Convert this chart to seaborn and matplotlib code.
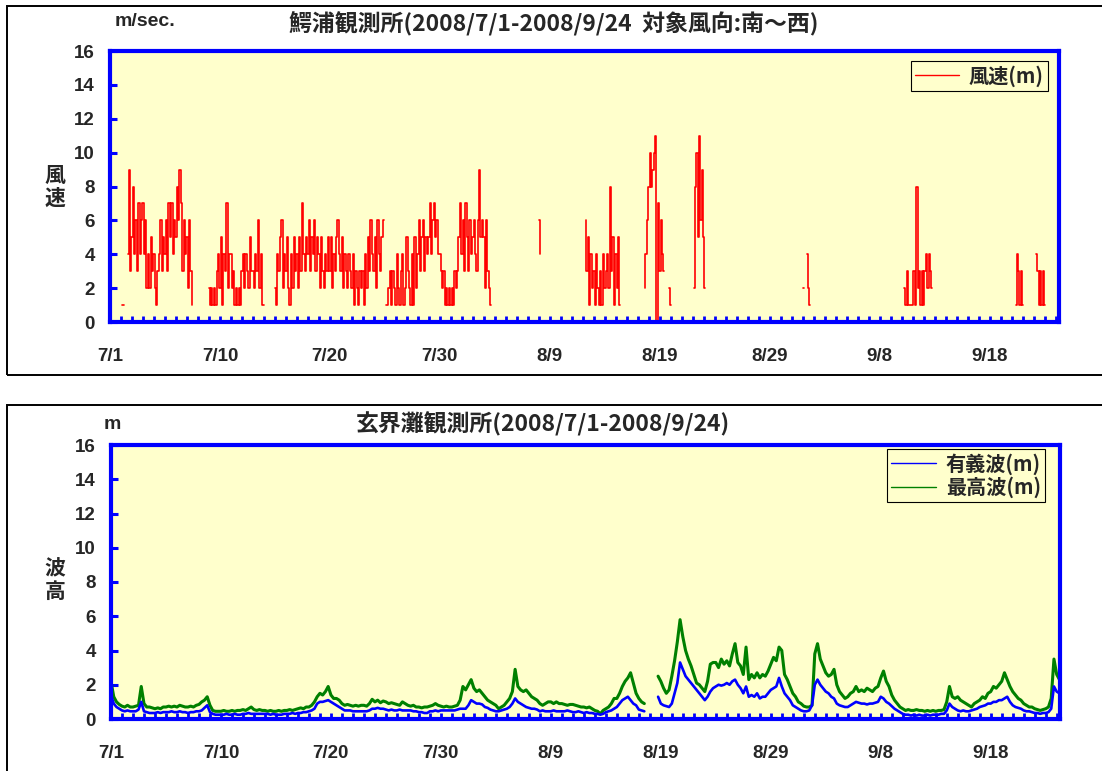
import numpy as np
import pandas as pd
import matplotlib
matplotlib.use("Agg")
import matplotlib.pyplot as plt
import seaborn as sns
from matplotlib.lines import Line2D
from matplotlib.patches import Rectangle
from matplotlib.font_manager import FontProperties

N = np.nan
WIND_PER_DAY = 8   # 3-hourly readings
WAVE_PER_DAY = 4   # 6-hourly readings

# x-axis date labels and their day offsets
date_labels = ["7/1", "7/10", "7/20", "7/30", "8/9", "8/19", "8/29", "9/8", "9/18"]
date_label_days = [0, 10, 20, 30, 40, 50, 60, 70, 80]

# Wind speed (m/s), one row per day; NaN when wind is not from south to west
wind_speed = [
    N, N, N, N, N, N, N, N,
    N, 1, 1, N, N, 4, 9, 3,
    5, 8, 4, 6, 3, 7, 4, 6,
    7, 4, 6, 2, 4, 2, 5, 3,
    4, 2, 1, 3, 4, 6, 3, 5,
    4, 6, 3, 7, 5, 7, 4, 6,
    5, 8, 6, 9, 7, 3, 6, 4,
    5, 2, 6, 3, 1, N, N, N,
    N, N, N, N, N, N, N, N,
    2, 1, 2, 1, 2, 1, 3, 4,
    2, 5, 1, 4, 3, 7, 2, 4,
    4, 2, 3, 1, 2, 1, 2, 1,
    3, 4, 2, 4, 3, 2, 5, 3,
    3, 2, 4, 3, 6, 2, 4, 1,
    1, N, N, N, N, N, N, N,
    2, 1, 4, 3, 5, 6, 2, 4,
    3, 5, 2, 1, 4, 2, 5, 3,
    4, 2, 5, 3, 7, 4, 3, 5,
    4, 6, 3, 5, 4, 6, 3, 5,
    4, 2, 5, 3, 2, 4, 3, 5,
    3, 5, 2, 4, 3, 5, 6, 4,
    3, 5, 2, 4, 3, 2, 4, 3,
    2, 4, 1, 3, 2, 1, 3, 2,
    3, 1, 4, 2, 5, 3, 6, 4,
    3, 5, 2, 6, 4, 3, 5, 6,
    N, 1, 1, 2, 3, 1, 3, 2,
    1, 4, 2, 1, 3, 4, 1, 2,
    5, 3, 2, 1, 4, 1, 5, 2,
    4, 6, 3, 5, 6, 3, 5, 4,
    5, 7, 4, 6, 7, 5, 6, 4,
    4, 3, 2, 3, 1, 2, 1, 2,
    1, 2, 1, 3, 2, 3, 5, 7,
    4, 6, 3, 7, 5, 3, 6, 4,
    5, 6, 4, 3, 6, 9, 5, 6,
    5, 2, 6, 3, 2, 1, N, N,
    N, N, N, N, N, N, N, N,
    N, N, N, N, N, N, N, N,
    N, N, N, N, N, N, N, N,
    N, N, N, N, N, N, N, N,
    6, 4, N, N, N, N, N, N,
    N, N, N, N, N, N, N, N,
    N, N, N, N, N, N, N, N,
    N, N, N, N, N, N, N, N,
    N, N, 6, 3, 5, 1, 4, 2,
    3, 1, 4, 2, 1, 3, 1, 4,
    2, 3, 4, 2, 8, 3, 5, 1,
    4, 2, 5, 1, N, N, N, N,
    N, N, N, N, N, N, N, N,
    N, N, N, N, N, 2, 4, 6,
    8, 10, 8, 9, 10, 11, 0, 7,
    3, 6, 4, 3, N, N, N, 2,
    1, N, N, N, N, N, N, N,
    N, N, N, N, N, N, N, N,
    N, 2, 8, 10, 5, 11, 6, 9,
    5, 2, N, N, N, N, N, N,
    N, N, N, N, N, N, N, N,
    N, N, N, N, N, N, N, N,
    N, N, N, N, N, N, N, N,
    N, N, N, N, N, N, N, N,
    N, N, N, N, N, N, N, N,
    N, N, N, N, N, N, N, N,
    N, N, N, N, N, N, N, N,
    N, N, N, N, N, N, N, N,
    2, 2, N, 4, 2, 1, N, N,
    N, N, N, N, N, N, N, N,
    N, N, N, N, N, N, N, N,
    N, N, N, N, N, N, N, N,
    N, N, N, N, N, N, N, N,
    N, N, N, N, N, N, N, N,
    N, N, N, N, N, N, N, N,
    N, N, N, N, N, N, N, N,
    N, N, N, N, N, N, N, N,
    N, N, 2, 1, 3, 1, 1, 1,
    1, 3, 1, 8, 2, 3, 1, 3,
    1, 3, 4, 2, 4, 3, 2, N,
    N, N, N, N, N, N, N, N,
    N, N, N, N, N, N, N, N,
    N, N, N, N, N, N, N, N,
    N, N, N, N, N, N, N, N,
    N, N, N, N, N, N, N, N,
    N, N, N, N, N, N, N, N,
    N, N, N, N, N, N, N, N,
    N, N, N, 1, 4, 3, 1, 3,
    1, N, N, N, N, N, N, N,
    N, N, 4, 3, 1, 3, 1, 3,
    1, N, N, N, N, N, N, N,
]

# Significant wave height (m)
sig_wave = [
    1.4, 0.9, 0.7, 0.6,      0.5, 0.45, 0.5, 0.45,    0.45, 0.45, 0.55, 1.0,   0.45, 0.4, 0.35, 0.35,
    0.35, 0.4, 0.35, 0.4,    0.4, 0.4, 0.45, 0.4,     0.4, 0.45, 0.4, 0.4,     0.35, 0.4, 0.4, 0.45,
    0.45, 0.5, 0.65, 0.8,    0.4, 0.3, 0.25, 0.25,    0.25, 0.25, 0.3, 0.25,   0.25, 0.3, 0.25, 0.25,
    0.3, 0.3, 0.35, 0.3,     0.3, 0.3, 0.3, 0.3,      0.3, 0.3, 0.25, 0.3,     0.25, 0.25, 0.25, 0.3,
    0.3, 0.3, 0.35, 0.3,     0.35, 0.35, 0.4, 0.4,    0.45, 0.5, 0.6, 0.9,     1.0, 1.0, 1.05, 1.1,
    1.0, 0.9, 0.8, 0.7,      0.6, 0.5, 0.5, 0.5,      0.45, 0.45, 0.45, 0.45,  0.45, 0.45, 0.5, 0.6,
    0.6, 0.65, 0.6, 0.6,     0.55, 0.5, 0.55, 0.5,    0.5, 0.55, 0.5, 0.5,     0.5, 0.5, 0.45, 0.45,
    0.4, 0.4, 0.35, 0.35,    0.45, 0.45, 0.5, 0.45,   0.5, 0.5, 0.5, 0.5,      0.5, 0.5, 0.55, 0.6,
    0.6, 0.6, 0.8, 1.1,      1.0, 0.9, 0.9, 0.85,     0.7, 0.65, 0.55, 0.5,    0.45, 0.45, 0.5, 0.55,
    0.6, 0.7, 0.9, 1.2,      1.0, 0.9, 0.8, 0.7,      0.65, 0.6, 0.6, 0.55,    0.45, 0.5, 0.45, 0.45,
    0.45, 0.5, 0.45, 0.45,   0.45, 0.45, 0.5, 0.45,   0.4, 0.4, 0.45, 0.4,     0.35, 0.4, 0.35, 0.35,
    0.3, 0.3, 0.25, 0.3,     0.4, 0.45, 0.5, 0.6,     0.7, 0.9, 1.1, 1.2,      1.3, 1.1, 0.9, 0.8,
    0.55, 0.5, 0.45, N,      N, N, N, 1.3,            0.9, 0.8, 0.75, 0.7,     0.9, 1.5, 2.1, 3.3,
    2.9, 2.5, 2.3, 2.1,      1.9, 1.7, 1.5, 1.3,      1.1, 1.3, 1.6, 1.8,      1.9, 2.0, 1.95, 2.0,
    2.1, 2.0, 2.2, 2.3,      2.0, 1.8, 1.5, 1.9,      1.3, 1.4, 1.3, 1.5,      1.2, 1.3, 1.3, 1.5,
    1.7, 1.8, 1.9, 2.4,      1.9, 1.5, 1.3, 1.1,      0.8, 0.7, 0.6, 0.5,      0.45, 0.45, 0.5, 0.8,
    2.0, 2.3, 2.0, 1.8,      1.6, 1.5, 1.3, 1.2,      0.9, 0.8, 0.75, 0.7,     0.7, 0.8, 0.9, 1.0,
    0.95, 0.9, 0.9, 0.85,    0.9, 0.9, 0.95, 1.0,     1.3, 1.2, 1.0, 0.9,      0.75, 0.6, 0.5, 0.4,
    0.3, 0.25, 0.25, 0.2,    0.25, 0.2, 0.25, 0.2,    0.2, 0.25, 0.2, 0.25,    0.25, 0.25, 0.3, 0.3,
    0.5, 0.9, 0.7, 0.6,      0.5, 0.45, 0.5, 0.45,    0.45, 0.5, 0.55, 0.6,    0.7, 0.75, 0.8, 0.9,
    0.9, 1.0, 1.0, 1.1,      1.1, 1.2, 1.3, 1.0,      0.8, 0.7, 0.65, 0.6,     0.5, 0.45, 0.45, 0.4,
    0.35, 0.35, 0.3, 0.35,   0.35, 0.4, 0.6, 1.9,     1.6, 1.5, N, N,
]

# Maximum wave height (m)
max_wave = [
    2.2, 1.3, 1.0, 0.85,     0.75, 0.7, 0.8, 0.7,     0.7, 0.75, 0.8, 1.9,     0.9, 0.7, 0.7, 0.65,
    0.6, 0.65, 0.6, 0.7,     0.7, 0.75, 0.7, 0.75,    0.7, 0.8, 0.75, 0.7,     0.7, 0.75, 0.7, 0.8,
    0.85, 1.0, 1.1, 1.3,     0.8, 0.5, 0.45, 0.45,    0.45, 0.5, 0.45, 0.45,   0.5, 0.45, 0.5, 0.5,
    0.55, 0.5, 0.6, 0.7,     0.55, 0.5, 0.55, 0.5,    0.5, 0.45, 0.5, 0.45,    0.45, 0.5, 0.45, 0.5,
    0.5, 0.55, 0.5, 0.55,    0.6, 0.65, 0.6, 0.7,     0.7, 0.8, 1.0, 1.3,      1.5, 1.4, 1.6, 1.9,
    1.4, 1.2, 1.2, 1.1,      0.9, 0.8, 0.85, 0.8,     0.75, 0.8, 0.75, 0.8,    0.8, 0.75, 0.9, 1.15,
    1.0, 1.1, 0.95, 1.05,    1.0, 0.9, 0.95, 0.9,     0.85, 0.8, 1.0, 0.9,     0.8, 0.75, 0.8, 0.7,
    0.7, 0.65, 0.7, 0.7,     0.75, 0.8, 0.9, 0.8,     0.75, 0.7, 0.75, 0.7,    0.7, 0.75, 0.8, 1.1,
    1.9, 1.7, 2.0, 2.3,      1.8, 1.6, 1.7, 1.5,      1.3, 1.1, 1.0, 0.9,      0.8, 0.6, 0.7, 0.8,
    1.0, 1.2, 1.6, 2.9,      1.9, 1.7, 1.6, 1.7,      1.5, 1.3, 1.2, 1.1,      0.9, 0.8, 0.9, 1.0,
    1.0, 0.9, 1.0, 0.9,      0.9, 0.85, 0.8, 0.85,    0.85, 0.8, 0.75, 0.7,    0.7, 0.65, 0.7, 0.6,
    0.5, 0.45, 0.3, 0.5,     0.6, 0.7, 0.9, 1.2,      1.2, 1.5, 1.9, 2.2,      2.4, 2.7, 2.1, 1.5,
    1.2, 1.0, 0.9, N,        N, N, N, 2.5,            2.2, 1.8, 1.5, 1.7,      2.5, 3.4, 4.5, 5.8,
    4.8, 4.0, 3.5, 3.1,      2.6, 2.1, 2.0, 1.8,      1.6, 2.2, 3.2, 3.3,      3.3, 3.0, 3.5, 3.2,
    3.4, 3.1, 3.8, 4.4,      3.3, 3.1, 2.6, 4.2,      2.3, 2.6, 2.4, 2.7,      2.4, 2.6, 2.5, 2.8,
    3.2, 3.6, 3.4, 4.2,      4.0, 2.6, 2.3, 1.9,      1.5, 1.3, 1.0, 0.9,      0.75, 0.7, 0.7, 0.8,
    3.8, 4.4, 3.5, 3.1,      2.7, 2.5, 2.6, 2.9,      2.0, 1.6, 1.4, 1.2,      1.3, 1.5, 1.6, 1.9,
    1.6, 1.7, 1.6, 1.8,      1.7, 1.6, 1.8, 1.9,      2.4, 2.8, 2.2, 1.9,      1.4, 1.1, 0.9, 0.7,
    0.6, 0.5, 0.55, 0.5,     0.5, 0.55, 0.5, 0.5,     0.45, 0.5, 0.45, 0.5,    0.45, 0.5, 0.5, 0.55,
    1.0, 1.9, 1.3, 1.2,      1.3, 1.1, 1.0, 0.9,      0.8, 0.7, 0.9, 1.0,      1.1, 1.3, 1.2, 1.5,
    1.6, 1.9, 1.8, 2.0,      2.2, 2.7, 2.3, 1.9,      1.6, 1.4, 1.2, 1.1,      0.9, 0.8, 0.7, 0.7,
    0.6, 0.55, 0.5, 0.55,    0.6, 0.7, 1.2, 3.5,      2.6, 2.3, N, N,
]

sns.set_style("white")
plt.rcParams["font.family"] = ["Liberation Sans", "Noto Sans CJK JP", "DejaVu Sans"]
plt.rcParams["font.weight"] = "bold"

W, H = 1102, 771
BLUE = "#0000FF"
GREEN = "#008000"
PANEL = "#FFFFCC"
CJK = ["Noto Sans CJK JP", "DejaVu Sans"]


def frame(values, name, per_day):
    """Long table with a segment id so gaps (NaN) break the line."""
    df = pd.DataFrame({"day": np.arange(len(values)) / per_day, name: values})
    df["seg"] = df[name].isna().cumsum()
    return df.dropna()


def px_box(left, top, right, bottom):
    return [left / W, 1 - bottom / H, (right - left) / W, (bottom - top) / H]


def style_axes(ax):
    ax.set_facecolor(PANEL)
    ax.set_xlim(0, 86.3)
    ax.set_ylim(0, 16)
    ax.set_yticks(np.arange(0, 17, 2))
    ax.set_xticks(date_label_days)
    ax.set_xticklabels(date_labels)
    ax.set_xticks(np.arange(1, 87), minor=True)
    for s in ax.spines.values():
        s.set_color(BLUE)
        s.set_linewidth(3)
    ax.tick_params(axis="y", which="major", direction="in", length=5, width=2.2,
                   color=BLUE, pad=11, labelsize=13.5, left=True, right=False)
    ax.tick_params(axis="x", which="both", direction="in", length=4, width=2,
                   color=BLUE, bottom=True, top=False)
    ax.tick_params(axis="x", which="major", pad=19, labelsize=13.5)
    ax.set_xlabel("")
    ax.set_ylabel("")


def add_legend(ax, handles, labels, right_px, top_px):
    leg = ax.legend(handles, labels, loc="upper right",
                    bbox_to_anchor=(right_px / W, 1 - top_px / H),
                    bbox_transform=fig.transFigure, fancybox=False, framealpha=1,
                    facecolor=PANEL, edgecolor="black", borderpad=0.2,
                    handlelength=2.2, handletextpad=0.5, labelspacing=0.1,
                    borderaxespad=0,
                    prop=FontProperties(family=CJK, weight="bold", size=14.5))
    leg.get_frame().set_linewidth(0.8)


fig = plt.figure(figsize=(W / 100, H / 100), dpi=100)

# outer chart frames
fig.add_artist(Rectangle((7 / W, 1 - 375 / H), (1120 - 7) / W, (375 - 6) / H,
                         transform=fig.transFigure, fill=False, edgecolor="black", lw=1.4))
fig.add_artist(Rectangle((7 / W, -0.1), (1120 - 7) / W, (1 - 405 / H) + 0.1,
                         transform=fig.transFigure, fill=False, edgecolor="black", lw=1.4))

# --- wind speed panel ---
ax1 = fig.add_axes(px_box(110, 51, 1059, 322))
sns.lineplot(data=frame(wind_speed, "speed", WIND_PER_DAY), x="day", y="speed",
             units="seg", estimator=None, color="red", lw=1.2, drawstyle="steps-mid",
             ax=ax1, legend=False)
style_axes(ax1)
add_legend(ax1, [Line2D([], [], color="red", lw=1.0)], ["風速(m)"], 1048, 61)

fig.text(115 / W, 1 - 22 / H, "m/sec.", ha="left", va="center", fontsize=14,
         weight="bold", family="Liberation Sans")
fig.text(554 / W, 1 - 24 / H, "鰐浦観測所(2008/7/1-2008/9/24  対象風向:南～西)",
         ha="center", va="center", fontsize=16.5, weight="bold", family=CJK)
fig.text(55 / W, 1 - 187 / H, "風\n速", ha="center", va="center", fontsize=15,
         weight="bold", family=CJK, linespacing=1.1)

# --- wave height panel ---
ax2 = fig.add_axes(px_box(111, 445, 1060, 719))
sns.lineplot(data=frame(max_wave, "hmax", WAVE_PER_DAY), x="day", y="hmax",
             units="seg", estimator=None, color=GREEN, lw=2.2, ax=ax2, legend=False)
sns.lineplot(data=frame(sig_wave, "hs", WAVE_PER_DAY), x="day", y="hs",
             units="seg", estimator=None, color=BLUE, lw=1.9, ax=ax2, legend=False)
style_axes(ax2)
add_legend(ax2, [Line2D([], [], color=BLUE, lw=1.0), Line2D([], [], color=GREEN, lw=1.0)],
           ["有義波(m)", "最高波(m)"], 1045, 449)

fig.text(112 / W, 1 - 424 / H, "m", ha="center", va="center", fontsize=14,
         weight="bold", family="Liberation Sans")
fig.text(543 / W, 1 - 424 / H, "玄界灘観測所(2008/7/1-2008/9/24)",
         ha="center", va="center", fontsize=16.5, weight="bold", family=CJK)
fig.text(55 / W, 1 - 580 / H, "波\n高", ha="center", va="center", fontsize=15,
         weight="bold", family=CJK, linespacing=1.1)

fig.savefig("out.png", dpi=100)
